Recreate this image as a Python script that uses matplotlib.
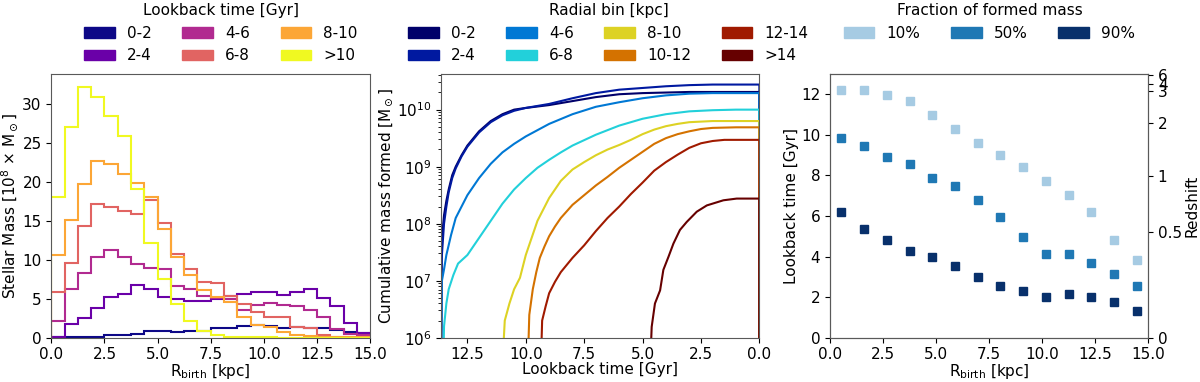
import numpy as np
import matplotlib.pyplot as plt
from matplotlib.patches import Patch

plt.rcParams['font.size'] = 11
plt.rcParams['axes.edgecolor'] = '0.35'

# ---- left panel: stellar mass vs birth radius, per lookback-time bin ----
r_edges = np.linspace(0, 15, 25)
age_labels = ['0-2', '2-4', '4-6', '6-8', '8-10', '>10']
age_colors = ['#0d0887', '#6a00a8', '#b12a90', '#e16462', '#fca636', '#f0f921']
mass_0_2 = [0.05, 0.05, 0.1, 0.15, 0.3, 0.4, 0.5, 0.8, 0.9, 0.7, 0.8, 0.9,
            1.3, 1.2, 1.5, 1.6, 1.5, 1.3, 1.4, 1.3, 1.2, 1.0, 0.7, 0.6]
mass_2_4 = [0.1, 1.7, 2.5, 3.8, 5.2, 5.6, 6.7, 6.2, 5.2, 5.0, 4.7, 4.7,
            5.0, 5.4, 5.6, 5.8, 5.8, 5.5, 5.8, 6.2, 5.1, 4.1, 1.9, 0.6]
mass_4_6 = [2.1, 6.3, 8.3, 10.4, 11.2, 10.3, 9.5, 9.0, 8.8, 6.6, 6.2, 5.3,
            5.1, 4.9, 3.6, 4.2, 4.4, 4.2, 4.0, 3.6, 2.6, 1.1, 0.5, 0.3]
mass_6_8 = [5.9, 9.6, 14.3, 17.1, 16.7, 16.2, 15.9, 17.7, 14.7, 10.7, 8.8, 7.1,
            7.0, 5.3, 4.3, 3.3, 2.7, 2.6, 1.4, 1.3, 0.4, 0.15, 0.1, 0.05]
mass_8_10 = [10.6, 15.1, 19.7, 22.7, 22.3, 21.0, 19.9, 18.1, 14.0, 10.3, 8.0, 6.1,
             5.2, 4.6, 2.6, 1.6, 1.4, 0.7, 0.3, 0.2, 0.15, 0.1, 0.1, 0.05]
mass_gt10 = [18.1, 27.0, 32.2, 30.9, 28.4, 25.8, 19.1, 12.2, 7.5, 4.3, 2.2, 0.9,
             0.3, 0.1, 0.05, 0.05, 0.03, 0.02, 0.02, 0.02, 0.01, 0.01, 0.01, 0.01]
age_masses = [mass_0_2, mass_2_4, mass_4_6, mass_6_8, mass_8_10, mass_gt10]

# ---- middle panel: cumulative mass formed (log10 Msun) vs lookback time ----
rad_labels = ['0-2', '2-4', '4-6', '6-8', '8-10', '10-12', '12-14', '>14']
rad_colors = ['#00006a', '#0019a0', '#0078d4', '#22d0da', '#ddd224',
              '#d47200', '#a01a00', '#660000']
t_r0 = [13.63, 13.6, 13.5, 13.4, 13.3, 13.15, 13.0, 12.75, 12.5, 12.0, 11.5, 11.0,
        10.5, 10.0, 9.0, 8.0, 7.0, 6.0, 5.0, 4.0, 3.0, 2.0, 1.0, 0.0]
m_r0 = [5.0, 7.7, 8.15, 8.4, 8.6, 8.85, 9.0, 9.2, 9.37, 9.62, 9.8, 9.92,
        10.0, 10.03, 10.08, 10.15, 10.22, 10.27, 10.29, 10.30, 10.31, 10.31, 10.31, 10.31]
t_r1 = t_r0
m_r1 = [5.0, 7.4, 8.0, 8.3, 8.55, 8.8, 8.97, 9.18, 9.35, 9.6, 9.78, 9.9,
        9.98, 10.03, 10.1, 10.2, 10.29, 10.35, 10.38, 10.41, 10.43, 10.44, 10.44, 10.44]
t_r2 = [13.63, 13.6, 13.5, 13.4, 13.2, 13.0, 12.75, 12.5, 12.0, 11.5, 11.0, 10.5,
        10.0, 9.0, 8.0, 7.0, 6.0, 5.0, 4.0, 3.0, 2.0, 1.0, 0.0]
m_r2 = [5.0, 6.98, 7.2, 7.45, 7.8, 8.1, 8.3, 8.5, 8.8, 9.05, 9.25, 9.4,
        9.53, 9.75, 9.92, 10.05, 10.13, 10.2, 10.25, 10.28, 10.29, 10.29, 10.29]
t_r3 = [13.56, 13.5, 13.4, 13.3, 13.1, 12.9, 12.5, 12.0, 11.5, 11.0, 10.5, 10.0,
        9.5, 9.0, 8.5, 8.0, 7.0, 6.0, 5.0, 4.0, 3.0, 2.0, 1.0, 0.0]
m_r3 = [5.0, 6.2, 6.6, 6.85, 7.1, 7.3, 7.45, 7.75, 8.05, 8.35, 8.6, 8.8,
        8.98, 9.12, 9.25, 9.37, 9.56, 9.72, 9.84, 9.92, 9.97, 9.99, 10.0, 10.0]
t_r4 = [11.07, 10.9, 10.7, 10.5, 10.25, 10.0, 9.75, 9.5, 9.25, 9.0, 8.5, 8.0, 7.5,
        7.0, 6.5, 6.0, 5.5, 5.0, 4.5, 4.0, 3.5, 3.0, 2.0, 1.0, 0.0]
m_r4 = [5.0, 6.3, 6.6, 6.85, 7.05, 7.45, 7.75, 8.05, 8.25, 8.45, 8.75, 8.95, 9.08,
        9.2, 9.3, 9.38, 9.47, 9.57, 9.65, 9.71, 9.75, 9.78, 9.8, 9.8, 9.8]
t_r5 = [9.95, 9.85, 9.7, 9.55, 9.4, 9.2, 9.0, 8.75, 8.5, 8.0, 7.5, 7.0, 6.5, 6.0,
        5.5, 5.0, 4.5, 4.0, 3.5, 3.0, 2.5, 2.0, 1.0, 0.0]
m_r5 = [5.0, 6.4, 6.85, 7.15, 7.4, 7.6, 7.78, 7.95, 8.1, 8.33, 8.5, 8.67, 8.82, 8.98,
        9.12, 9.26, 9.4, 9.5, 9.57, 9.62, 9.66, 9.68, 9.69, 9.69]
t_r6 = [9.39, 9.3, 9.15, 9.0, 8.75, 8.5, 8.0, 7.5, 7.0, 6.5, 6.0, 5.5, 5.0, 4.5,
        4.0, 3.5, 3.0, 2.5, 2.0, 1.5, 1.0, 0.0]
m_r6 = [5.0, 6.3, 6.55, 6.78, 6.98, 7.15, 7.4, 7.62, 7.87, 8.1, 8.3, 8.52, 8.72, 8.93,
        9.08, 9.21, 9.33, 9.41, 9.45, 9.47, 9.47, 9.47]
t_r7 = [4.72, 4.61, 4.47, 4.25, 4.11, 3.89, 3.68, 3.4, 3.11, 2.68, 2.25, 1.54, 0.97, 0.0]
m_r7 = [5.0, 6.19, 6.6, 6.83, 7.19, 7.42, 7.65, 7.89, 8.03, 8.21, 8.32, 8.41, 8.44, 8.44]
rad_t = [t_r0, t_r1, t_r2, t_r3, t_r4, t_r5, t_r6, t_r7]
rad_m = [m_r0, m_r1, m_r2, m_r3, m_r4, m_r5, m_r6, m_r7]

# ---- right panel: lookback time when 10/50/90% of mass formed ----
frac_edges = np.linspace(0, 15, 15)
frac_labels = ['10%', '50%', '90%']
frac_colors = ['#a6cbe3', '#1f78b4', '#08306b']
t10 = [12.23, 12.23, 11.95, 11.67, 10.98, 10.29, 9.58, 9.0, 8.44, 7.75, 7.05, 6.22, 4.82, 3.84]
t50 = [9.86, 9.43, 8.89, 8.59, 7.88, 7.47, 6.78, 5.94, 4.95, 4.12, 4.12, 3.70, 3.13, 2.57]
t90 = [6.22, 5.38, 4.82, 4.26, 3.97, 3.56, 3.0, 2.57, 2.30, 2.02, 2.16, 2.02, 1.74, 1.32]
z_labels = ['0', '0.5', '1', '2', '3', '4', '6']
z_lookback = [0, 5.2, 7.95, 10.6, 12.15, 12.53, 12.97]

fig = plt.figure(figsize=(12, 3.82), dpi=100)
ax1 = fig.add_axes([0.0428, 0.116, 0.2656, 0.690])
ax2 = fig.add_axes([0.3675, 0.116, 0.2653, 0.690])
ax3 = fig.add_axes([0.6917, 0.116, 0.2650, 0.690])
leg_y = 1.028

for vals, c in zip(age_masses, age_colors):
    ax1.stairs(vals, r_edges, color=c, lw=1.5)
ax1.set_xlim(0, 15)
ax1.set_ylim(0, 33.8)
ax1.set_xlabel(r'R$_{\rm birth}$ [kpc]', labelpad=0)
ax1.set_ylabel(r'Stellar Mass [10$^8$ $\times$ M$_\odot$]', labelpad=1.5)
ax1.legend([Patch(color=c) for c in age_colors], age_labels, ncol=3,
           title='Lookback time [Gyr]', frameon=False, loc='upper center',
           bbox_to_anchor=(0.1842, leg_y), bbox_transform=fig.transFigure)

for t, m, c in zip(rad_t, rad_m, rad_colors):
    t = np.r_[t, 0.0]
    m = np.r_[10 ** np.array(m), 1e5]
    ax2.plot(t, m, color=c, lw=1.5)
ax2.set_yscale('log')
ax2.set_xlim(13.63, 0)
ax2.set_ylim(1e6, 4.2e10)
ax2.set_xlabel('Lookback time [Gyr]', labelpad=0)
ax2.set_ylabel(r'Cumulative mass formed [M$_\odot$]', labelpad=1.5)
ax2.legend([Patch(color=c) for c in rad_colors], rad_labels, ncol=4,
           title='Radial bin [kpc]', frameon=False, loc='upper center',
           bbox_to_anchor=(0.507, leg_y), bbox_transform=fig.transFigure)

centers = 0.5 * (frac_edges[1:] + frac_edges[:-1])
for vals, c in zip([t10, t50, t90], frac_colors):
    ax3.plot(centers, vals, 's', color=c, ms=6)
ax3.set_xlim(0, 15)
ax3.set_ylim(0, 13)
ax3.set_xlabel(r'R$_{\rm birth}$ [kpc]', labelpad=0)
ax3.set_ylabel('Lookback time [Gyr]', labelpad=1.5)
ax3.legend([Patch(color=c) for c in frac_colors], frac_labels, ncol=3,
           title='Fraction of formed mass', frameon=False, loc='upper center',
           bbox_to_anchor=(0.8246, leg_y), bbox_transform=fig.transFigure)
twin = ax3.twinx()
twin.set_ylim(0, 13)
twin.set_yticks(z_lookback)
twin.set_yticklabels(z_labels)
twin.set_ylabel('Redshift', labelpad=2)

fig.savefig('out.png', dpi=100)
